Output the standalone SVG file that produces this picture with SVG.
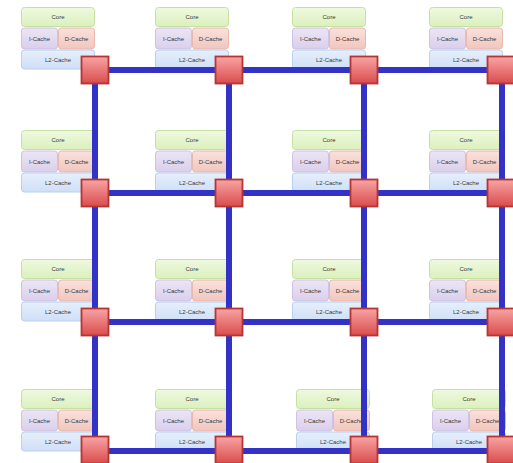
<svg xmlns="http://www.w3.org/2000/svg" width="513" height="463" viewBox="0 0 513 463">
<defs>
<linearGradient id="gCore" x1="0" y1="0" x2="0" y2="1"><stop offset="0" stop-color="#eff9df"/><stop offset="1" stop-color="#dbf0bd"/></linearGradient>
<linearGradient id="gI" x1="0" y1="0" x2="0" y2="1"><stop offset="0" stop-color="#ece5f5"/><stop offset="1" stop-color="#dacfeb"/></linearGradient>
<linearGradient id="gD" x1="0" y1="0" x2="0" y2="1"><stop offset="0" stop-color="#fae1dc"/><stop offset="1" stop-color="#f1c6be"/></linearGradient>
<linearGradient id="gL2" x1="0" y1="0" x2="0" y2="1"><stop offset="0" stop-color="#e6effc"/><stop offset="1" stop-color="#cfdff7"/></linearGradient>
<linearGradient id="gR" x1="0" y1="0" x2="0" y2="1"><stop offset="0" stop-color="#f8a4a4"/><stop offset="1" stop-color="#da4c4c"/></linearGradient>
<g id="tile">
<rect x="0.5" y="0.5" width="73" height="19" rx="3" fill="url(#gCore)" stroke="#c6e0a4"/>
<rect x="0.5" y="21" width="36" height="21" rx="3" fill="url(#gI)" stroke="#cfc2e4"/>
<rect x="37.5" y="21" width="36" height="21" rx="3" fill="url(#gD)" stroke="#e9b8ae"/>
<rect x="0.5" y="43" width="73" height="19" rx="3" fill="url(#gL2)" stroke="#bad0ee"/>
<text x="37" y="12.2" class="t">Core</text>
<text x="18.5" y="33.8" class="t">I-Cache</text>
<text x="55.5" y="33.8" class="t">D-Cache</text>
<text x="37" y="55.2" class="t">L2-Cache</text>
</g>
<rect id="router" x="-13.5" y="-13.5" width="27" height="27" fill="url(#gR)" stroke="#b53434" stroke-width="1.8"/>
</defs>
<style>
.t{font-family:"Liberation Sans",Arial,sans-serif;font-size:6px;fill:#3a3a3a;text-anchor:middle}
.link{stroke:#3232c6;stroke-width:6;fill:none}
</style>
<g id="cores">
<g id="tile-0-0"><use href="#tile" x="21" y="7"/></g>
<g id="tile-0-1"><use href="#tile" x="155" y="7"/></g>
<g id="tile-0-2"><use href="#tile" x="292" y="7"/></g>
<g id="tile-0-3"><use href="#tile" x="429" y="7"/></g>
<g id="tile-1-0"><use href="#tile" x="21" y="130"/></g>
<g id="tile-1-1"><use href="#tile" x="155" y="130"/></g>
<g id="tile-1-2"><use href="#tile" x="292" y="130"/></g>
<g id="tile-1-3"><use href="#tile" x="429" y="130"/></g>
<g id="tile-2-0"><use href="#tile" x="21" y="259"/></g>
<g id="tile-2-1"><use href="#tile" x="155" y="259"/></g>
<g id="tile-2-2"><use href="#tile" x="292" y="259"/></g>
<g id="tile-2-3"><use href="#tile" x="429" y="259"/></g>
<g id="tile-3-0"><use href="#tile" x="21" y="389"/></g>
<g id="tile-3-1"><use href="#tile" x="155" y="389"/></g>
<g id="tile-3-2"><use href="#tile" x="296" y="389"/></g>
<g id="tile-3-3"><use href="#tile" x="432" y="389"/></g>
</g>
<g id="connectors">
<line class="link" x1="95" y1="70" x2="502" y2="70"/>
<line class="link" x1="95" y1="193" x2="502" y2="193"/>
<line class="link" x1="95" y1="322" x2="502" y2="322"/>
<line class="link" x1="95" y1="451" x2="502" y2="451"/>
<line class="link" x1="95" y1="70" x2="95" y2="451"/>
<line class="link" x1="229" y1="70" x2="229" y2="451"/>
<line class="link" x1="364" y1="70" x2="364" y2="451"/>
<line class="link" x1="502" y1="70" x2="502" y2="451"/>
</g>
<g id="routers">
<g id="r-0-0"><use href="#router" x="95" y="70"/></g>
<g id="r-0-1"><use href="#router" x="229" y="70"/></g>
<g id="r-0-2"><use href="#router" x="364" y="70"/></g>
<g id="r-0-3"><use href="#router" x="501" y="70"/></g>
<g id="r-1-0"><use href="#router" x="95" y="193"/></g>
<g id="r-1-1"><use href="#router" x="229" y="193"/></g>
<g id="r-1-2"><use href="#router" x="364" y="193"/></g>
<g id="r-1-3"><use href="#router" x="501" y="193"/></g>
<g id="r-2-0"><use href="#router" x="95" y="322"/></g>
<g id="r-2-1"><use href="#router" x="229" y="322"/></g>
<g id="r-2-2"><use href="#router" x="364" y="322"/></g>
<g id="r-2-3"><use href="#router" x="501" y="322"/></g>
<g id="r-3-0"><use href="#router" x="95" y="450"/></g>
<g id="r-3-1"><use href="#router" x="229" y="450"/></g>
<g id="r-3-2"><use href="#router" x="364" y="450"/></g>
<g id="r-3-3"><use href="#router" x="501" y="450"/></g>
</g>
</svg>
